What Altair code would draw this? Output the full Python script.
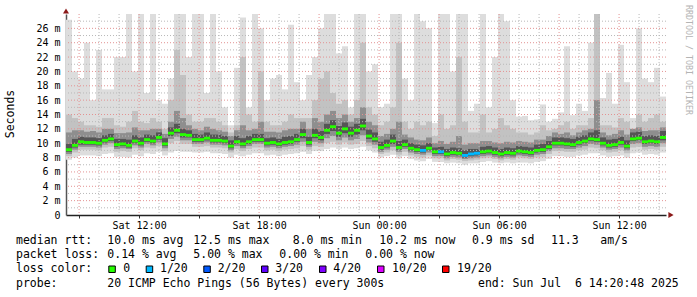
import altair as alt
import pandas as pd

# time axis: hours since Sat 2025-07-05 00:00
T0 = 8 + 20 / 60 + 48 / 3600
T_END = T0 + 30
STEP_H = 0.3  # 18 minute consolidated steps
Y_MAX = 28

median = [9.1, 9.7, 10.2, 10.1, 10.1, 10.0, 10.4, 10.6, 9.8, 9.9, 9.7, 10.3, 10.0, 10.5, 10.3, 10.8, 9.9, 11.4, 11.8, 11.2, 11.1, 10.5, 10.5, 10.7, 10.4,
          10.4, 10.3, 9.6, 10.2, 9.9, 10.2, 10.5, 10.5, 10.0, 10.1, 9.9, 10.1, 10.2, 10.5, 11.2, 10.1, 11.1, 10.8, 11.8, 12.3, 11.4, 12.0, 11.4, 11.8, 12.4,
          11.0, 10.6, 9.4, 9.7, 10.3, 9.4, 9.8, 9.3, 9.1, 9.0, 9.3, 8.8, 8.8, 8.5, 8.7, 8.6, 8.3, 8.5, 8.6, 8.8, 8.9, 8.7, 8.5, 8.7, 8.6,
          8.9, 8.8, 8.7, 9.0, 9.1, 9.5, 10.0, 10.0, 9.9, 9.8, 10.1, 10.3, 10.6, 10.5, 10.0, 9.7, 9.8, 10.1, 9.6, 10.6, 10.7, 10.2, 10.3, 10.2, 10.8]

loss = [0, 0, 0, 0, 0, 0, 0, 0, 0, 0, 0, 0, 0, 0, 0, 0, 0, 0, 0, 0, 0, 0, 0, 0, 0,
        0, 0, 0, 0, 0, 0, 0, 0, 0, 0, 0, 0, 0, 0, 0, 0, 0, 0, 0, 0, 0, 0, 0, 0, 0,
        0, 0, 0, 0, 0, 0, 0, 0, 0, 1, 0, 0, 1, 0, 0, 0, 1, 1, 1, 0, 0, 0, 0, 0, 0,
        0, 0, 0, 0, 0, 0, 0, 0, 0, 0, 0, 0, 0, 0, 0, 0, 0, 0, 0, 0, 0, 0, 0, 0, 0]

# smoke: outer (ping 1/20) ... inner band boundaries
hi1 = [27.2, 20, 19, 24, 16, 23, 17.5, 17.5, 22, 22, 28, 20, 28, 17, 28, 16, 15.5, 19, 28, 28, 22, 28, 28, 17, 28,
       20, 15, 12.5, 20.5, 27.5, 15, 28, 26, 16, 19, 19.5, 17.5, 26.5, 18.5, 16, 19.5, 22, 26, 28, 28, 22.5, 23.5, 15, 28, 28,
       20, 21, 15, 15.5, 28, 28, 19, 16, 28, 27, 26, 12.8, 28, 28, 20, 28, 28, 14.5, 15.5, 28, 15, 22, 28, 27, 16,
       13.7, 13.8, 13.2, 13.3, 15.4, 13, 13.4, 14.3, 23.5, 13.9, 15.5, 14.5, 24, 28, 16.3, 19.8, 15.5, 23.7, 18.5, 13.5, 26, 19, 18.5, 20.5, 16.5]
hi2 = [14, 13.5, 13, 12.5, 12.5, 12.3, 13.5, 13.5, 12.5, 12.3, 13, 14.5, 13, 12.8, 13.5, 13, 12, 16, 23, 19.5, 14, 13, 13, 13.5, 13.5,
       13, 12.5, 11.5, 12.5, 22, 14, 13, 20, 13, 12.5, 12.5, 13, 14, 13.5, 13.5, 13.5, 16, 19, 20, 17, 15.5, 16, 14, 16, 24,
       15, 14, 12.5, 13, 15, 24, 13, 12, 13, 12.5, 13, 11, 14, 12, 12.5, 22, 13, 11.5, 11.5, 14, 11.5, 12, 13.5, 12.5, 12,
       11.5, 11.5, 11.2, 11.5, 12.5, 11.8, 12, 12.5, 13, 12, 12.5, 12.5, 13.5, 28, 12.5, 12.5, 12.2, 13.5, 13, 12, 14, 13, 13.5, 14, 13]
hi3 = [11.5, 11.8, 11.8, 11.6, 11.7, 11.5, 12, 12, 11.4, 11.4, 11.5, 12.2, 11.8, 11.8, 12, 12, 11.3, 13, 14.5, 13.5, 12.5, 12, 11.8, 12.3, 12,
       11.8, 11.6, 11, 11.8, 12.5, 11.8, 12, 13, 11.6, 11.6, 11.5, 11.8, 12, 12, 13, 12, 13.5, 13, 14, 14.5, 13.5, 14, 13, 13.5, 15,
       13, 12.5, 11, 11.3, 12, 13, 11.2, 10.8, 10.5, 10.4, 10.8, 10, 10.3, 9.9, 10.2, 11, 9.8, 10, 10, 10.3, 10.3, 10.1, 10, 10.2, 10.1,
       10.3, 10.2, 10.1, 10.5, 10.5, 11, 11.5, 11.3, 11.5, 11.1, 11.5, 11.8, 12, 16, 11.5, 11.1, 11.3, 11.8, 11.2, 12, 12.2, 11.7, 11.8, 11.8, 12.2]
hi4 = [9.9, 10.6, 10.9, 10.8, 10.8, 10.7, 11.1, 11.3, 10.6, 10.6, 10.5, 11.1, 10.8, 11.2, 11.1, 11.5, 10.7, 12.2, 12.7, 12.0, 11.8, 11.3, 11.2, 11.5, 11.2,
       11.2, 11.0, 10.4, 11.0, 10.7, 11.0, 11.3, 11.3, 10.7, 10.8, 10.6, 10.9, 11.0, 11.3, 12.0, 10.9, 12.0, 11.7, 12.7, 13.2, 12.4, 12.9, 12.3, 12.7, 13.4,
       11.9, 11.5, 10.2, 10.5, 11.2, 10.3, 10.5, 10.0, 9.8, 9.7, 10.0, 9.4, 9.5, 9.2, 9.4, 9.3, 9.0, 9.2, 9.2, 9.5, 9.6, 9.4, 9.2, 9.4, 9.3,
       9.6, 9.5, 9.4, 9.8, 9.9, 10.3, 10.8, 10.8, 10.7, 10.6, 10.9, 11.1, 11.5, 11.8, 10.8, 10.5, 10.6, 10.9, 10.4, 11.5, 11.6, 11.0, 11.1, 11.0, 11.7]
lo4 = [8.8, 9.4, 9.8, 9.8, 9.8, 9.7, 10.1, 10.3, 9.5, 9.6, 9.4, 10.0, 9.7, 10.2, 10.0, 10.5, 9.6, 11.0, 11.4, 10.8, 10.8, 10.2, 10.2, 10.4, 10.1,
       10.1, 10.0, 9.3, 9.9, 9.6, 9.9, 10.2, 10.2, 9.7, 9.8, 9.6, 9.8, 9.9, 10.2, 10.7, 9.8, 10.7, 10.4, 11.3, 11.7, 10.9, 11.4, 10.9, 11.2, 11.8,
       10.6, 10.2, 9.1, 9.4, 9.9, 9.1, 9.5, 9.0, 8.8, 8.7, 9.0, 8.5, 8.5, 8.2, 8.4, 8.3, 8.0, 8.2, 8.3, 8.5, 8.6, 8.4, 8.2, 8.4, 8.3,
       8.6, 8.5, 8.4, 8.7, 8.8, 9.2, 9.7, 9.7, 9.6, 9.5, 9.8, 10.0, 10.3, 10.2, 9.7, 9.4, 9.5, 9.8, 9.3, 10.3, 10.4, 9.9, 10.0, 9.9, 10.4]
lo3 = [8.5, 9.1, 9.5, 9.5, 9.5, 9.4, 9.8, 10.0, 9.2, 9.3, 9.2, 9.7, 9.4, 9.9, 9.7, 10.1, 9.3, 10.6, 10.9, 10.4, 10.4, 9.9, 9.9, 10.1, 9.8,
       9.8, 9.7, 9.0, 9.6, 9.3, 9.6, 9.9, 9.9, 9.4, 9.5, 9.3, 9.5, 9.6, 9.8, 10.2, 9.5, 10.2, 10.0, 10.7, 11.0, 10.4, 10.8, 10.4, 10.6, 11.1,
       10.1, 9.8, 8.8, 9.1, 9.5, 8.8, 9.2, 8.7, 8.5, 8.4, 8.7, 8.2, 8.2, 7.9, 8.1, 8.0, 7.8, 7.9, 8.0, 8.2, 8.3, 8.1, 7.9, 8.1, 8.0,
       8.3, 8.2, 8.1, 8.4, 8.5, 8.9, 9.3, 9.3, 9.2, 9.2, 9.4, 9.6, 9.9, 9.8, 9.4, 9.1, 9.2, 9.4, 9.0, 9.9, 10.0, 9.5, 9.6, 9.5, 10.0]
lo2 = [8.2, 8.7, 9.1, 9.1, 9.1, 9.0, 9.4, 9.5, 8.8, 8.9, 8.8, 9.3, 9.0, 9.4, 9.3, 9.6, 8.9, 10.0, 10.3, 9.9, 9.9, 9.5, 9.5, 9.6, 9.4,
       9.4, 9.3, 8.7, 9.2, 8.9, 9.2, 9.4, 9.4, 9.0, 9.1, 8.9, 9.1, 9.2, 9.3, 9.6, 9.1, 9.6, 9.5, 10.0, 10.2, 9.8, 10.1, 9.8, 9.9, 10.3,
       9.6, 9.3, 8.5, 8.7, 9.0, 8.4, 8.8, 8.3, 8.1, 8.0, 8.3, 7.9, 7.9, 7.6, 7.8, 7.7, 7.5, 7.6, 7.7, 7.9, 8.0, 7.8, 7.6, 7.8, 7.7,
       8.0, 7.9, 7.8, 8.0, 8.1, 8.5, 8.9, 8.9, 8.8, 8.8, 9.0, 9.1, 9.4, 9.3, 9.0, 8.7, 8.8, 9.0, 8.6, 9.4, 9.5, 9.1, 9.2, 9.1, 9.5]
lo1 = [7.7, 8.0, 8.3, 8.3, 8.3, 8.2, 8.5, 8.6, 8.1, 8.1, 8.0, 8.4, 8.2, 8.6, 8.5, 8.8, 8.3, 8.7, 8.9, 8.8, 8.8, 8.7, 8.7, 8.8, 8.6,
       8.6, 8.5, 8.0, 8.4, 8.2, 8.4, 8.6, 8.6, 8.3, 8.4, 8.2, 8.4, 8.5, 8.6, 8.8, 8.5, 8.9, 8.9, 9.2, 9.4, 9.2, 9.4, 9.2, 9.3, 9.5,
       9.0, 8.7, 8.0, 8.2, 8.4, 7.9, 8.2, 7.8, 7.6, 7.5, 7.8, 7.4, 7.4, 7.2, 7.3, 7.2, 7.0, 7.2, 7.2, 7.4, 7.5, 7.3, 7.2, 7.3, 7.2,
       7.3, 7.3, 7.2, 7.4, 7.5, 7.8, 8.2, 8.2, 8.1, 8.1, 8.3, 8.4, 8.6, 8.6, 8.3, 8.1, 8.2, 8.3, 8.0, 8.6, 8.7, 8.4, 8.5, 8.4, 8.7]

SMOKE_COLORS = ["#dddddd", "#c2c2c2", "#8e8e8e", "#555555"]
LOSS_COLORS = ["#26ff00", "#00b8ff", "#0059ff", "#5e00ff", "#7e00ff", "#dd00ff", "#ff0000"]
LOSS_LABELS = ["0", "1/20", "2/20", "3/20", "4/20", "10/20", "19/20"]

X_MAJOR = [9, 12, 15, 18, 21, 24, 27, 30, 33, 36]
X_MINOR = [10, 11, 13, 14, 16, 17, 19, 20, 22, 23, 25, 26, 28, 29, 31, 32, 34, 35, 37, 38]
X_LABEL_HOURS = [12, 18, 24, 30, 36]
X_LABELS = ["Sat 12:00", "Sat 18:00", "Sun 00:00", "Sun 06:00", "Sun 12:00"]
Y_MAJOR = [2, 4, 6, 8, 10, 12, 14, 16, 18, 20, 22, 24, 26]
Y_MINOR = [1, 3, 5, 7, 9, 11, 13, 15, 17, 19, 21, 23, 25, 27]
Y_TICKS = [0, 2, 4, 6, 8, 10, 12, 14, 16, 18, 20, 22, 24, 26]

FONT = "DejaVu Sans Mono"

rows = []
for i in range(len(median)):
    rows.append(dict(t=T0 + STEP_H * i, t2=T0 + STEP_H * (i + 1),
                     med=median[i], loss=LOSS_COLORS[loss[i]],
                     hi1=hi1[i], hi2=hi2[i], hi3=hi3[i], hi4=hi4[i],
                     lo1=lo1[i], lo2=lo2[i], lo3=lo3[i], lo4=lo4[i],
                     mlo=median[i] - 0.2, mhi=median[i] + 0.2))
df = pd.DataFrame(rows)

xs = alt.Scale(domain=[T0, T_END], nice=False, zero=False)
ys = alt.Scale(domain=[0, Y_MAX], nice=False, zero=True)

label_expr = "''"
for h, l in reversed(list(zip(X_LABEL_HOURS, X_LABELS))):
    label_expr = f"datum.value == {h} ? '{l}' : ({label_expr})"

X_AXIS = alt.Axis(values=X_MAJOR, labelExpr=label_expr, title=None, grid=False,
                  tickSize=3, tickColor="#333333", domainColor="#222222", domainWidth=1.5,
                  labelFont=FONT, labelFontSize=10, labelColor="#000000", labelPadding=2,
                  labelOverlap=False, labelFlush=False)
Y_AXIS = alt.Axis(values=Y_TICKS, labelExpr="datum.value == 0 ? '0' : datum.value + ' m'",
                  title=None, grid=False, ticks=False, tickSize=0, labelPadding=6,
                  domainColor="#555555", domainWidth=1.5,
                  labelFont=FONT, labelFontSize=10, labelColor="#000000", labelOverlap=False)


def X(field):
    return alt.X(f"{field}:Q", scale=xs, axis=X_AXIS)


def Y(field):
    return alt.Y(f"{field}:Q", scale=ys, axis=Y_AXIS)


layers = []
bands = [("lo1", "hi1"), ("lo2", "hi2"), ("lo3", "hi3"), ("lo4", "hi4")]
for k, (lo, hi) in enumerate(bands):
    layers.append(alt.Chart(df).mark_rect(color=SMOKE_COLORS[k], clip=True).encode(
        x=X("t"), x2="t2:Q", y=Y(lo), y2=f"{hi}:Q"))


# grid (drawn over the smoke, as rrdtool does)
def vrules(vals, color):
    return alt.Chart(pd.DataFrame({"t": vals})).mark_rule(
        color=color, strokeDash=[1, 2], strokeWidth=1).encode(x=X("t"))


def hrules(vals, color):
    return alt.Chart(pd.DataFrame({"v": vals})).mark_rule(
        color=color, strokeDash=[1, 2], strokeWidth=1).encode(y=Y("v"))


layers += [hrules(Y_MINOR, "#b8b8b8"), vrules(X_MINOR, "#b8b8b8"),
           hrules(Y_MAJOR, "#e39292"), vrules(X_MAJOR, "#e39292")]

# median rtt coloured by loss
layers.append(alt.Chart(df).mark_rect(clip=True).encode(
    x=X("t"), x2="t2:Q", y=Y("mlo"), y2="mhi:Q",
    color=alt.Color("loss:N", scale=None)))

# axis arrows
arrow_top = pd.DataFrame({"t": [T0], "v": [Y_MAX]})
arrow_right = pd.DataFrame({"t": [T_END], "v": [0]})
layers.append(alt.Chart(arrow_top).mark_point(shape="triangle-up", filled=True, size=36,
                                              color="#8b1a1a", opacity=1, yOffset=-3).encode(
    x=X("t"), y=Y("v")))
layers.append(alt.Chart(arrow_right).mark_point(shape="triangle-right", filled=True, size=36,
                                                color="#8b1a1a", opacity=1, xOffset=5).encode(
    x=X("t"), y=Y("v")))

# texts (positions relative to the plot origin at 66,14)
OX, OY = 66, 14
one = pd.DataFrame({"a": [0]})


def txt(s, x, y, size=11.5, color="#000000", angle=0, align="left"):
    return alt.Chart(one).mark_text(text=s, font=FONT, fontSize=size, color=color, angle=angle,
                                    align=align, baseline="middle").encode(
        x=alt.value(x - OX), y=alt.value(y - OY))


layers.append(txt("Seconds", 11, 114, angle=270, align="center"))
layers.append(txt("RRDTOOL / TOBI OETIKER", 687.5, 60, size=8.3, color="#b4b4b4", angle=90, align="center"))

legend_rows = [
    (241, [("median rtt:", 16), ("10.0 ms avg", 107.3), ("12.5 ms max", 193.3), ("8.0 ms min", 292.7),
           ("10.2 ms now", 379.3), ("0.9 ms sd", 472), ("11.3", 551), ("am/s", 600.3)]),
    (255.3, [("packet loss:", 16), ("0.14 % avg", 107.3), ("5.00 % max", 193.3), ("0.00 % min", 279.3),
             ("0.00 % now", 365.3)]),
    (269.3, [("loss color:", 16)]),
    (283.7, [("probe:", 16), ("20 ICMP Echo Pings (56 Bytes) every 300s", 107.3),
             ("end: Sun Jul \u00a06 14:20:48 2025", 478)]),
]
for yy, items in legend_rows:
    for s, xx in items:
        layers.append(txt(s, xx, yy))

SQ_X = [108.3, 145.7, 203.3, 261, 319, 377, 442]
LBL_X = [123.3, 160, 217.7, 275.3, 333.3, 392, 457]
for c, l, sx, lx in zip(LOSS_COLORS, LOSS_LABELS, SQ_X, LBL_X):
    layers.append(alt.Chart(one).mark_rect(fill=c, stroke="#000000", strokeWidth=1).encode(
        x=alt.value(sx + 0.5 - OX), x2=alt.value(sx + 7 - OX),
        y=alt.value(266 - OY), y2=alt.value(272.5 - OY)))
    layers.append(txt(l, lx, 269.3))

chart = alt.layer(*layers).properties(
    width=600, height=201,
    autosize=alt.AutoSizeParams(type="none"),
    padding={"left": OX, "top": OY, "right": 31, "bottom": 82},
    background="#ffffff",
).configure_view(stroke=None)

chart.save("out.html", embed_options={"renderer": "svg", "actions": False})
